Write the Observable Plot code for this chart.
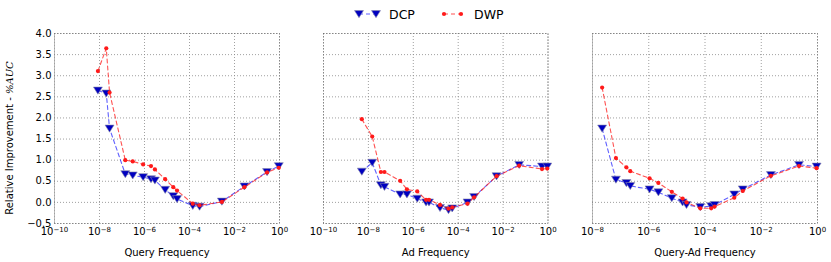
<!DOCTYPE html>
<html><head><meta charset="utf-8">
<script src="https://cdn.jsdelivr.net/npm/d3@7"></script>
<script src="https://cdn.jsdelivr.net/npm/@observablehq/plot@0.6"></script>
<style>
body{margin:0;background:#fff;}
#wrap{position:relative;width:831px;height:262px;font-family:"DejaVu Sans",sans-serif;overflow:hidden;}
#wrap > svg{position:absolute;top:0;}
</style></head>
<body><div id="wrap"></div>
<script>
// ---- data ----
const seriesNames = ["DCP", "DWP"];
const yTicks = [-0.5, 0, 0.5, 1, 1.5, 2, 2.5, 3, 3.5, 4];
const xTicksWide = [1e-10, 1e-8, 1e-6, 1e-4, 1e-2, 1];
const xTicksNarrow = [1e-8, 1e-6, 1e-4, 1e-2, 1];
const panelLabels = ["Query Frequency", "Ad Frequency", "Query-Ad Frequency"];

const queryFreq = [8.5e-9, 2.0e-8, 2.8e-8, 1.4e-7, 3.0e-7, 8.7e-7, 1.95e-6, 2.9e-6, 8.3e-6, 1.9e-5, 2.8e-5, 1.4e-4, 2.8e-4, 2.75e-3, 2.75e-2, 0.28, 0.93];
const queryDCP  = [2.65, 2.58, 1.75, 0.67, 0.64, 0.60, 0.55, 0.52, 0.30, 0.15, 0.08, -0.08, -0.10, 0.02, 0.38, 0.72, 0.86];
const queryDWP  = [3.11, 3.65, 2.60, 1.00, 0.97, 0.90, 0.86, 0.78, 0.55, 0.36, 0.28, -0.03, -0.07, 0.01, 0.36, 0.71, 0.82];

const adFreq = [5.1e-9, 1.48e-8, 3.6e-8, 5.2e-8, 2.6e-7, 5.2e-7, 1.5e-6, 3.7e-6, 5.0e-6, 1.55e-5, 3.7e-5, 5.4e-5, 2.6e-4, 5.1e-4, 5.1e-3, 5.2e-2, 0.54, 0.93];
const adDCP  = [0.73, 0.94, 0.41, 0.37, 0.19, 0.19, 0.09, 0.00, 0.00, -0.13, -0.18, -0.14, 0.00, 0.13, 0.62, 0.89, 0.85, 0.85];
const adDWP  = [1.97, 1.56, 0.72, 0.72, 0.51, 0.31, 0.26, 0.06, 0.06, -0.06, -0.15, -0.12, -0.03, 0.12, 0.62, 0.87, 0.79, 0.80];

const qaFreq = [2.2e-8, 6.8e-8, 1.6e-7, 2.2e-7, 1.07e-6, 2.2e-6, 6.6e-6, 1.6e-5, 2.2e-5, 6.8e-5, 1.66e-4, 2.2e-4, 1.1e-3, 2.2e-3, 2.2e-2, 0.22, 0.93];
const qaDCP  = [1.75, 0.54, 0.46, 0.39, 0.31, 0.24, 0.10, 0.00, -0.06, -0.11, -0.09, -0.06, 0.19, 0.31, 0.65, 0.89, 0.85];
const qaDWP  = [2.72, 1.05, 0.83, 0.74, 0.57, 0.46, 0.25, 0.09, 0.00, -0.14, -0.14, -0.10, 0.11, 0.27, 0.63, 0.86, 0.81];

// ---- helpers ----
const fmtPow = d => "10^" + String(Math.round(Math.log10(d))).replace("-", "−");
const triDown = {
  draw(ctx, size) {
    const s = Math.sqrt(size);
    ctx.moveTo(-0.55 * s, -0.42 * s);
    ctx.lineTo(0.55 * s, -0.42 * s);
    ctx.lineTo(0, 0.45 * s);
    ctx.closePath();
  }
};
const BLUE_LINE = "#2b2bff", BLUE_FILL = "#0000c0", RED = "#ff1a1a";
const gridStyle = {stroke: "#888", strokeOpacity: 1, strokeWidth: 0.8, strokeDasharray: "1,2"};

function panel({xs, dcp, dwp, domain, ticks, label, showY, left, width, ml, mr}) {
  const rows = xs.map((x, i) => ({x, dcp: dcp[i], dwp: dwp[i]}));
  const svg = Plot.plot({
    width, height: 262,
    marginLeft: ml, marginRight: mr, marginTop: 33, marginBottom: 39,
    style: {fontFamily: "DejaVu Sans, sans-serif", fontSize: "10px", color: "#000", background: "transparent", overflow: "visible"},
    x: {type: "log", domain},
    y: {domain: [-0.5, 4], axis: showY ? undefined : null},
    marks: [
      Plot.gridX(ticks, gridStyle),
      Plot.gridY(yTicks, gridStyle),
      Plot.frame({stroke: "#666", strokeDasharray: "1,2", strokeWidth: 0.9}),
      Plot.axisX(ticks, {tickSize: 0, tickPadding: 4.5, tickFormat: fmtPow, fontSize: 10, label, labelAnchor: "center", labelArrow: "none", labelOffset: 32}),
      showY
        ? Plot.axisY(yTicks, {tickSize: 0, tickPadding: 3, tickFormat: d3.format(".1f"), fontSize: 10, label: null})
        : null,
      Plot.line(rows, {x: "x", y: "dcp", stroke: BLUE_LINE, strokeOpacity: 0.75, strokeWidth: 1.1, strokeDasharray: "4,3"}),
      Plot.dot(rows, {x: "x", y: "dcp", symbol: triDown, r: 4.6, fill: BLUE_FILL, stroke: "#8888aa", strokeWidth: 0.6}),
      Plot.line(rows, {x: "x", y: "dwp", stroke: RED, strokeOpacity: 0.75, strokeWidth: 1.1, strokeDasharray: "4,3"}),
      Plot.dot(rows, {x: "x", y: "dwp", r: 2.1, fill: RED, stroke: "none"})
    ]
  });
  // render powers of ten with a raised exponent
  d3.select(svg).selectAll('g[aria-label="x-axis tick label"] text').each(function () {
    const t = d3.select(this);
    const s = t.text();
    if (!s.includes("^")) return;
    const [base, exp] = s.split("^");
    t.text(null);
    t.append("tspan").text(base);
    t.append("tspan").attr("dy", "-0.42em").attr("font-size", 7).text(exp);
  });
  svg.style.left = left + "px";
  return svg;
}

const wrap = document.getElementById("wrap");
const p1 = panel({xs: queryFreq, dcp: queryDCP, dwp: queryDWP, domain: [1e-10, 1], ticks: xTicksWide, label: panelLabels[0], showY: true, left: 0, width: 290, ml: 54, mr: 11});
const p2 = panel({xs: adFreq, dcp: adDCP, dwp: adDWP, domain: [1e-10, 1], ticks: xTicksWide, label: panelLabels[1], showY: false, left: 290, width: 270, ml: 33, mr: 12.5});
const p3 = panel({xs: qaFreq, dcp: qaDCP, dwp: qaDWP, domain: [1e-8, 1], ticks: xTicksNarrow, label: panelLabels[2], showY: false, left: 560, width: 271, ml: 32, mr: 14});
wrap.append(p1, p2, p3);

// y-axis title with italic math part
const yt = d3.select(p1).append("text")
  .attr("transform", "translate(9.5,138) rotate(-90)")
  .attr("text-anchor", "middle").attr("dy", "0.35em")
  .attr("font-family", "DejaVu Sans, sans-serif").attr("font-size", 10).attr("fill", "#000");
yt.append("tspan").text("Relative Improvement - ");
yt.append("tspan").attr("font-family", "DejaVu Serif, serif").attr("font-style", "italic").text("%AUC");

// legend
const lg = d3.select(wrap).append("svg").attr("width", 831).attr("height", 30).style("left", "0px");
function legendItem(x0, x1, tx, name, color, isTri) {
  lg.append("line").attr("x1", x0).attr("x2", x1).attr("y1", 14).attr("y2", 14)
    .attr("stroke", color).attr("stroke-opacity", 0.75).attr("stroke-width", 1.1).attr("stroke-dasharray", "4,3");
  for (const x of [x0, x1]) {
    if (isTri) lg.append("path").attr("d", d3.symbol(triDown, Math.PI * 4.6 * 4.6)()).attr("transform", `translate(${x},14)`).attr("fill", BLUE_FILL).attr("stroke", "#8888aa").attr("stroke-width", 0.6);
    else lg.append("circle").attr("cx", x).attr("cy", 14).attr("r", 2.1).attr("fill", RED);
  }
  lg.append("text").attr("x", tx).attr("y", 14).attr("dy", "0.36em").attr("font-family", "DejaVu Sans, sans-serif").attr("font-size", 12.5).text(name);
}
legendItem(359, 376, 389, seriesNames[0], BLUE_LINE, true);
legendItem(444, 461, 474, seriesNames[1], RED, false);
</script>
</body></html>
